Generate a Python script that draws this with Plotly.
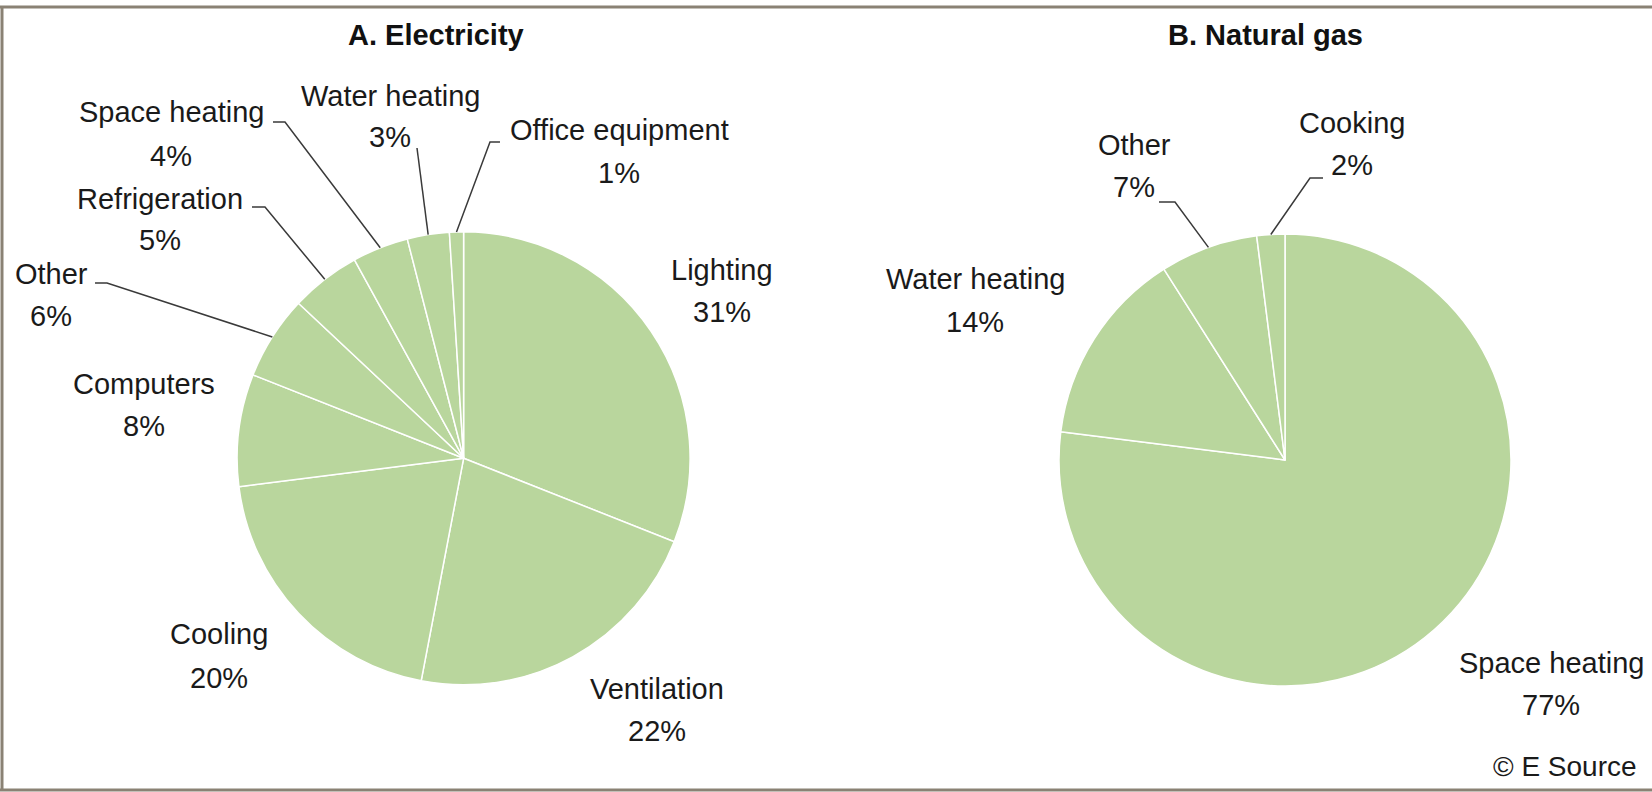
import math
import plotly.graph_objects as go

# ---------------- data ----------------
elec_labels = ["Lighting", "Ventilation", "Cooling", "Computers", "Other",
               "Refrigeration", "Space heating", "Water heating", "Office equipment"]
elec_values = [31, 22, 20, 8, 6, 5, 4, 3, 1]

gas_labels = ["Space heating", "Water heating", "Other", "Cooking"]
gas_values = [77, 14, 7, 2]

titles = ["A. Electricity", "B. Natural gas"]
source_note = "© E Source"

# ---------------- layout / style ----------------
W, H = 1652, 792
FONT = "Liberation Sans Narrow, Arial Narrow, Liberation Sans, Arial, sans-serif"
TXT = "#1a1a1a"
FILL = "#b9d69d"
LEAD = "#3a3a3a"
LSIZE = 29

ELEC_C, ELEC_R = (463.6, 458.3), 226.5
GAS_C, GAS_R = (1285.0, 460.0), 226.0

# label positions: (x centre, y of name line, y of percent line) in pixels
elec_label_pos = [(722, 270, 312), (657, 689, 731), (219, 634, 678), (144, 384, 426),
                  (51, 274, 316), (160, 199, 240), (171, 112, 156), (390, 96, 137),
                  (619, 130, 173)]
gas_label_pos = [(1551, 663, 705), (975, 279, 322), (1134, 145, 187), (1352, 123, 165)]

# leader line label-side points (pixels), None = no leader
elec_leaders = [None, None, None, None,
                [(95, 283), (107, 283)],
                [(252, 207), (265, 207)],
                [(273, 122), (285, 122)],
                [(417, 148)],
                [(500, 142), (490, 142)]]
gas_leaders = [None, None,
               [(1159, 202), (1175, 202)],
               [(1323, 178), (1310, 178)]]


def px(x, y):
    return x / W, 1 - y / H


def domain(c, r):
    return dict(x=[(c[0] - r) / W, (c[0] + r) / W],
                y=[1 - (c[1] + r) / H, 1 - (c[1] - r) / H])


def edge_point(values, i, c, r):
    total = float(sum(values))
    cum = sum(values[:i]) + values[i] / 2.0
    ang = 2 * math.pi * cum / total
    return c[0] + r * math.sin(ang), c[1] - r * math.cos(ang)


fig = go.Figure()
for labels, values, c, r in [(elec_labels, elec_values, ELEC_C, ELEC_R),
                             (gas_labels, gas_values, GAS_C, GAS_R)]:
    fig.add_trace(go.Pie(
        labels=labels, values=values, sort=False, direction="clockwise",
        rotation=0, textinfo="none", hoverinfo="label+percent",
        marker=dict(colors=[FILL] * len(values), line=dict(color="white", width=1.5)),
        domain=domain(c, r), showlegend=False))

annotations = []
shapes = []


def text_at(x, y, text, size, color=TXT):
    a, b = px(x, y)
    annotations.append(dict(x=a, y=b, xref="paper", yref="paper", xanchor="center",
                            yanchor="middle", text=text, showarrow=False,
                            font=dict(family=FONT, size=size, color=color)))


def add_labels(labels, values, positions, leaders, c, r):
    for i, (lab, val) in enumerate(zip(labels, values)):
        x, y1, y2 = positions[i]
        text_at(x, y1, lab, LSIZE)
        text_at(x, y2, f"{val}%", LSIZE)
        if leaders[i]:
            pts = list(leaders[i]) + [edge_point(values, i, c, r)]
            path = "M " + " L ".join(f"{px(a, b)[0]:.5f},{px(a, b)[1]:.5f}" for a, b in pts)
            shapes.append(dict(type="path", path=path, xref="paper", yref="paper",
                               line=dict(color=LEAD, width=1.5)))


add_labels(elec_labels, elec_values, elec_label_pos, elec_leaders, ELEC_C, ELEC_R)
add_labels(gas_labels, gas_values, gas_label_pos, gas_leaders, GAS_C, GAS_R)

for t, (tx, ty) in zip(titles, [(436, 35), (1265, 35)]):
    text_at(tx, ty, f"<b>{t}</b>", 29, "#111111")

text_at(1565, 766, source_note, 28)

# frame (top, left, bottom)
BORDER = "#8a8274"
for (x0, y0, x1, y1) in [(0, 7, W, 7), (2, 7, 2, 790), (0, 790, W, 790)]:
    a0, b0 = px(x0, y0)
    a1, b1 = px(x1, y1)
    shapes.append(dict(type="line", x0=a0, y0=b0, x1=a1, y1=b1, xref="paper",
                       yref="paper", line=dict(color=BORDER, width=3)))

fig.update_layout(width=W, height=H, autosize=False,
                  margin=dict(l=0, r=0, t=0, b=0),
                  paper_bgcolor="white", plot_bgcolor="white",
                  annotations=annotations, shapes=shapes)

fig.write_html("out.html", config={"displayModeBar": False},
               post_script="document.body.style.margin='0';document.body.style.overflow='hidden';")
